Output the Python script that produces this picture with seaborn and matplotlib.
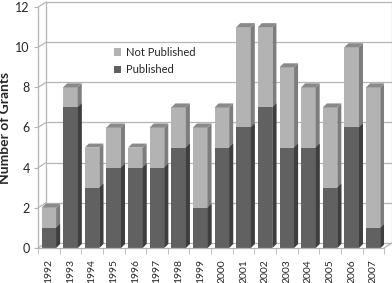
import matplotlib
matplotlib.use("Agg")
import pandas as pd
import matplotlib.pyplot as plt
from matplotlib.patches import Polygon, Patch
import seaborn as sns

# Grants per year, split by publication status
years = [str(y) for y in range(1992, 2008)]
published = [1, 7, 3, 4, 4, 4, 5, 2, 5, 6, 7, 5, 5, 3, 6, 1]
not_published = [1, 1, 2, 2, 1, 2, 2, 4, 2, 5, 4, 4, 3, 4, 4, 7]
y_ticks = [0, 2, 4, 6, 8, 10, 12]

df = pd.DataFrame({"year": years, "Published": published,
                   "Not Published": not_published})
df["Total"] = df["Published"] + df["Not Published"]

DARK, DARK_SIDE = "#616161", "#3e3e3e"
LIGHT, LIGHT_SIDE, TOP = "#b3b3b3", "#7d7d7d", "#8a8a8a"
GRID = "#b5b5b5"

sns.set_style("white")
plt.rcParams["font.family"] = ["Lato", "DejaVu Sans"]

fig = plt.figure(figsize=(3.92, 2.83), dpi=100)
ax = fig.add_axes([0.097, 0.124, 0.883, 0.851])

sns.barplot(data=df, x="year", y="Total", color=LIGHT, saturation=1,
            width=0.67, linewidth=0, ax=ax, zorder=3)
sns.barplot(data=df, x="year", y="Published", color=DARK, saturation=1,
            width=0.67, linewidth=0, ax=ax, zorder=3)

ax.set_xlim(-0.5, len(years) - 0.5)
ax.set_ylim(0, 12)

# convert pixel depth to data units
fig.canvas.draw()
bbox = ax.get_window_extent()
px_x = (len(years)) / bbox.width
px_y = 12 / bbox.height

def depth(px_dx, px_dy):
    return px_dx * px_x, px_dy * px_y

# fake 3D side and top faces on each bar
bdx, bdy = depth(4, 4)
n = len(years)
for i, p in enumerate(list(ax.patches)):
    x0, y0 = p.get_x(), p.get_y()
    w, h = p.get_width(), p.get_height()
    x1, y1 = x0 + w, y0 + h
    is_total = i < n
    side = Polygon([(x1, y0), (x1 + bdx, y0 + bdy), (x1 + bdx, y1 + bdy), (x1, y1)],
                   closed=True, facecolor=LIGHT_SIDE if is_total else DARK_SIDE,
                   edgecolor="none", zorder=3)
    ax.add_patch(side)
    if is_total:
        top = Polygon([(x0, y1), (x0 + bdx, y1 + bdy), (x1 + bdx, y1 + bdy), (x1, y1)],
                      closed=True, facecolor=TOP, edgecolor="none", zorder=3)
        ax.add_patch(top)

# back wall, left wall and floor
wdx, wdy = depth(8, 5)
xl, xr = -0.5, n - 0.5
for v in y_ticks:
    ax.plot([xl + wdx, xr + wdx], [v + wdy, v + wdy], color=GRID, lw=0.9,
            clip_on=False, zorder=1)
    ax.plot([xl, xl + wdx], [v, v + wdy], color=GRID, lw=0.9, clip_on=False, zorder=1)
ax.plot([xl, xl], [0, 12], color=GRID, lw=0.9, clip_on=False, zorder=1)
ax.plot([xl + wdx, xl + wdx], [wdy, 12 + wdy], color=GRID, lw=0.9, clip_on=False, zorder=1)
ax.plot([xr + wdx, xr + wdx], [wdy, 12 + wdy], color=GRID, lw=0.9, clip_on=False, zorder=1)
ax.plot([xl, xr], [0, 0], color=GRID, lw=0.9, clip_on=False, zorder=4)
ax.plot([xr, xr + wdx], [0, wdy], color=GRID, lw=0.9, clip_on=False, zorder=4)

for s in ax.spines.values():
    s.set_visible(False)

ax.set_yticks(y_ticks)
ax.tick_params(axis="y", labelsize=9, length=3, color=GRID, pad=3, left=True)
ax.set_xticks(range(n))
ax.set_xticks([k - 0.5 for k in range(n + 1)], minor=True)
ax.tick_params(axis="x", which="major", labelsize=7.5, length=0, pad=8,
               labelrotation=90)
ax.tick_params(axis="x", which="minor", length=4, color=GRID, bottom=True)
ax.set_xlabel("")
ax.set_ylabel("Number of Grants", fontsize=10, fontweight="bold", labelpad=3)

handles = [Patch(facecolor=LIGHT, edgecolor="none", label="Not Published"),
           Patch(facecolor=DARK, edgecolor="none", label="Published")]
fig.legend(handles=handles, loc="upper left", bbox_to_anchor=(0.29, 0.835),
           frameon=False, fontsize=8, handlelength=0.7, handleheight=0.7,
           handletextpad=0.4, labelspacing=0.6, borderpad=0, borderaxespad=0)

fig.savefig("out.png", dpi=100)
